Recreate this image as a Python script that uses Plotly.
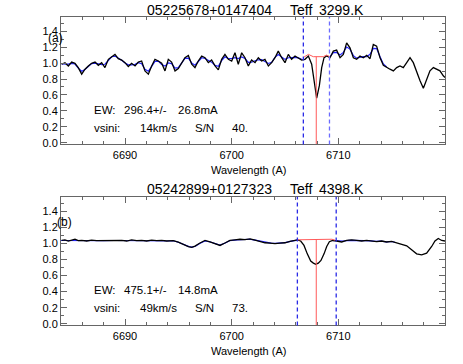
import plotly.graph_objects as go

# ---------------- data: panel (a) ----------------
wave_a = [6684.06, 6684.37, 6684.69, 6685.00, 6685.31, 6685.62, 6685.94, 6686.25, 6686.56, 6686.87,
          6687.19, 6687.50, 6687.81, 6688.12, 6688.44, 6688.75, 6689.06, 6689.37, 6689.69, 6690.00,
          6690.31, 6690.62, 6690.94, 6691.25, 6691.56, 6691.87, 6692.19, 6692.50, 6692.81, 6693.12,
          6693.44, 6693.75, 6694.06, 6694.37, 6694.69, 6695.00, 6695.31, 6695.62, 6695.94, 6696.25,
          6696.56, 6696.87, 6697.19, 6697.50, 6697.81, 6698.12, 6698.44, 6698.75, 6699.06, 6699.37,
          6699.69, 6700.00, 6700.31, 6700.62, 6700.94, 6701.25, 6701.56, 6701.87, 6702.19, 6702.50,
          6702.81, 6703.12, 6703.44, 6703.75, 6704.06, 6704.37, 6704.69, 6705.00, 6705.31, 6705.62,
          6705.94, 6706.25, 6706.56, 6706.87, 6707.19, 6707.50, 6707.72, 6707.97, 6708.22, 6708.44,
          6708.66, 6708.91, 6709.22, 6709.53, 6709.84, 6710.16, 6710.47, 6710.78, 6711.09, 6711.41,
          6711.72, 6712.03, 6712.34, 6712.66, 6712.97, 6713.28, 6713.59, 6713.91, 6714.22, 6714.53,
          6714.84, 6715.16, 6715.47, 6715.78, 6716.09, 6716.41, 6716.72, 6717.03, 6717.34, 6717.66,
          6717.97, 6718.28, 6718.59, 6718.91, 6719.22, 6719.53, 6719.84, 6720.00]
flux_a = [0.985, 1.005, 0.964, 1.013, 0.997, 0.943, 0.861, 0.923, 0.964, 0.997,
          1.013, 0.972, 1.005, 0.943, 1.047, 1.080, 1.109, 1.055, 1.038, 1.005,
          0.956, 0.997, 0.964, 1.013, 1.026, 0.902, 0.861, 0.964, 1.047, 1.026,
          0.997, 0.902, 1.047, 1.013, 0.902, 0.931, 1.005, 1.067, 1.096, 0.985,
          0.943, 1.026, 1.088, 1.067, 1.005, 1.038, 0.964, 0.915, 1.047, 1.109,
          1.047, 1.026, 1.129, 0.985, 1.129, 1.067, 0.964, 1.038, 1.005, 1.067,
          1.026, 1.047, 0.964, 1.005, 1.067, 1.150, 1.067, 1.005, 1.109, 1.047,
          1.088, 1.067, 1.038, 1.047, 1.088, 0.985, 0.799, 0.559, 0.716, 0.943,
          1.067, 1.088, 1.067, 1.150, 1.162, 1.067, 1.109, 1.253, 1.191, 1.067,
          1.047, 1.088, 1.067, 1.096, 1.055, 1.233, 1.212, 1.067, 0.972, 0.943,
          0.923, 0.902, 0.943, 0.964, 0.943, 1.005, 1.067, 1.005, 0.881, 0.778,
          0.683, 0.799, 0.902, 0.943, 0.923, 0.902, 0.840, 0.819]

model_wave_a = [6684.06, 6684.37, 6684.69, 6685.00, 6685.31, 6685.62, 6685.94, 6686.25, 6686.56, 6686.87,
                6687.19, 6687.50, 6687.81, 6688.12, 6688.44, 6688.75, 6689.06, 6689.37, 6689.69, 6690.00,
                6690.31, 6690.62, 6690.94, 6691.25, 6691.56, 6691.87, 6692.19, 6692.50, 6692.81, 6693.12,
                6693.44, 6693.75, 6694.06, 6694.37, 6694.69, 6695.00, 6695.31, 6695.62, 6695.94, 6696.25,
                6696.56, 6696.87, 6697.19, 6697.50, 6697.81, 6698.12, 6698.44, 6698.75, 6699.06, 6699.37,
                6699.69, 6700.00, 6700.31, 6700.62, 6700.94, 6701.25, 6701.56, 6701.87, 6702.19, 6702.50,
                6702.81, 6703.12, 6703.44, 6703.75, 6704.06, 6704.37, 6704.69, 6705.00, 6705.31, 6705.62,
                6705.94, 6706.25, 6706.56, None,
                6709.22, 6709.53, 6709.84, 6710.16, 6710.47, 6710.78, 6711.09, 6711.41, 6711.72, 6712.03,
                6712.34, 6712.66, 6712.97, 6713.28, 6713.59, 6713.91, 6714.22, 6714.53]
model_flux_a = [0.990, 0.990, 0.987, 0.997, 0.988, 0.936, 0.897, 0.918, 0.962, 0.993,
                0.999, 0.991, 0.981, 0.985, 1.029, 1.079, 1.088, 1.064, 1.034, 1.001,
                0.978, 0.978, 0.984, 1.004, 0.992, 0.923, 0.897, 0.959, 1.021, 1.024,
                0.981, 0.962, 1.002, 0.994, 0.937, 0.942, 1.002, 1.059, 1.061, 1.002,
                0.974, 1.021, 1.067, 1.057, 1.029, 1.011, 0.970, 0.960, 1.030, 1.078,
                1.057, 1.057, 1.067, 1.057, 1.077, 1.057, 1.008, 1.011, 1.029, 1.041,
                1.042, 1.021, 0.995, 1.010, 1.072, 1.108, 1.072, 1.046, 1.067, 1.073,
                1.072, 1.065, 1.047, None,
                1.080, 1.132, 1.135, 1.101, 1.134, 1.201, 1.175, 1.093, 1.062, 1.073,
                1.080, 1.079, 1.110, 1.183, 1.181, 1.080, 0.989, 0.950]

cont_wave_a = [6706.78, 6707.19, 6707.65, 6708.10, 6708.59, 6708.90, 6709.16]
cont_flux_a = [1.075, 1.109, 1.080, 1.080, 1.080, 1.100, 1.084]

# ---------------- data: panel (b) ----------------
wave_b = [6684.06, 6684.37, 6684.69, 6685.00, 6685.31, 6685.62, 6685.94, 6686.41, 6686.87, 6687.34,
          6687.81, 6688.28, 6688.75, 6689.22, 6689.69, 6690.16, 6690.62, 6691.09, 6691.56, 6692.03,
          6692.50, 6692.97, 6693.44, 6693.91, 6694.53, 6695.00, 6695.47, 6695.94, 6696.25, 6696.56,
          6697.03, 6697.50, 6697.97, 6698.44, 6698.91, 6699.37, 6699.84, 6700.31, 6700.78, 6701.25,
          6701.72, 6702.19, 6702.66, 6703.12, 6703.59, 6704.06, 6704.53, 6705.00, 6705.47, 6705.78,
          6706.16, 6706.47, 6706.78, 6707.09, 6707.41, 6707.66, 6707.88, 6708.12, 6708.37, 6708.66,
          6708.91, 6709.16, 6709.47, 6709.84, 6710.31, 6710.78, 6711.25, 6711.72, 6712.19, 6712.66,
          6713.12, 6713.59, 6714.06, 6714.53, 6715.00, 6715.47, 6715.94, 6716.41, 6716.87, 6717.34,
          6717.81, 6718.28, 6718.75, 6719.06, 6719.37, 6719.69, 6720.00]
flux_b = [1.037, 1.045, 1.030, 1.042, 1.052, 1.035, 1.037, 1.030, 1.040, 1.035,
          1.037, 1.030, 1.040, 1.034, 1.037, 1.030, 1.044, 1.034, 1.038, 1.030,
          1.040, 1.034, 1.037, 1.030, 1.034, 1.015, 0.983, 0.959, 0.950, 0.966,
          1.005, 1.037, 1.018, 0.997, 0.975, 1.005, 1.037, 1.045, 1.052, 1.048,
          1.057, 1.040, 1.026, 1.008, 1.005, 0.997, 1.005, 1.008, 1.026, 1.037,
          1.045, 1.030, 0.975, 0.870, 0.780, 0.755, 0.740, 0.755, 0.788, 0.870,
          0.962, 1.022, 1.037, 1.030, 1.018, 1.037, 1.045, 1.037, 1.030, 1.037,
          1.030, 1.022, 1.030, 1.018, 1.026, 1.005, 0.988, 0.971, 0.921, 0.870,
          0.858, 0.879, 0.962, 1.030, 1.062, 1.037, 1.030]

model_wave_b = [6684.0, 6685.0, 6686.0, 6687.0, 6688.0, 6689.0, 6690.0, 6691.0, 6692.0, 6693.0,
                6694.0, 6694.6, 6695.0, 6695.5, 6696.0, 6696.3, 6696.6, 6697.0, 6697.5, 6698.0,
                6698.5, 6698.9, 6699.4, 6699.8, 6700.5, 6701.2, 6701.7, 6702.2, 6702.7, 6703.2,
                6703.7, 6704.1, 6704.6, 6705.0, 6705.5, 6705.8, 6706.16, None,
                6709.5, 6710.0, 6710.5, 6711.0, 6711.5, 6712.0, 6712.5, 6713.0, 6713.5, 6714.0,
                6714.5, 6715.0, 6715.3]
model_flux_b = [1.036, 1.038, 1.037, 1.036, 1.035, 1.036, 1.035, 1.036, 1.035, 1.035,
                1.033, 1.030, 1.015, 0.985, 0.960, 0.955, 0.965, 1.000, 1.030, 1.018,
                0.995, 0.980, 1.005, 1.033, 1.045, 1.050, 1.052, 1.040, 1.025, 1.010,
                1.003, 1.000, 1.004, 1.010, 1.025, 1.035, 1.040, None,
                1.035, 1.028, 1.030, 1.038, 1.040, 1.034, 1.035, 1.032, 1.025, 1.028,
                1.020, 1.024, 1.015]

cont_wave_b = [6706.16, 6707.50, 6708.90, 6709.40, 6709.70]
cont_flux_b = [1.045, 1.046, 1.050, 1.052, 1.040]

# line markers (wavelengths)
window_a = [6706.72, 6709.17]
window_b = [6706.16, 6709.80]
li_center_a = 6707.93
li_center_b = 6707.93
li_top_a = 1.080
li_top_b = 1.046

x_tickvals = [6690, 6700, 6710]
x_ticktext = ["6690", "6700", "6710"]

titles = [["05225678+0147404", "Teff", "3299.K"], ["05242899+0127323", "Teff", "4398.K"]]
ew_text = [["EW:", "296.4+/-", "26.8mA"], ["EW:", "475.1+/-", "14.8mA"]]
vs_text = [["vsini:", "14km/s", "S/N", "40."], ["vsini:", "49km/s", "S/N", "73."]]
panel_tags = ["(a)", "(b)"]

XRANGE = [6684, 6720]
YRANGE = [-0.02, 1.58]
FONT = "Liberation Sans, Arial, sans-serif"
AXC = "#666666"
W, H = 463, 364

fig = go.Figure()

panels = [
    dict(w=wave_a, f=flux_a, mw=model_wave_a, mf=model_flux_a, cw=cont_wave_a, cf=cont_flux_a,
         win=window_a, li=li_center_a, top=li_top_a, xa="x", ya="y",
         dom=[1 - 146 / H, 1 - 17 / H], ytitle=10, yew=111, yvs=129, ytag=38, xtag=55, wl=171.7,
         wincol=["#2a2ae6", "#6b6bff"]),
    dict(w=wave_b, f=flux_b, mw=model_wave_b, mf=model_flux_b, cw=cont_wave_b, cf=cont_flux_b,
         win=window_b, li=li_center_b, top=li_top_b, xa="x2", ya="y2",
         dom=[1 - 329 / H, 1 - 199 / H], ytitle=191.3, yew=293, yvs=311, ytag=224, xtag=64.5, wl=355,
         wincol=["#2a2ae6", "#2a2ae6"]),
]

annotations = []
shapes = []
for i, p in enumerate(panels):
    fig.add_trace(go.Scatter(x=p["mw"], y=p["mf"], mode="lines", line=dict(color="#2323ff", width=1.2),
                             xaxis=p["xa"], yaxis=p["ya"], showlegend=False, connectgaps=False))
    fig.add_trace(go.Scatter(x=p["w"], y=p["f"], mode="lines", line=dict(color="black", width=1.3),
                             xaxis=p["xa"], yaxis=p["ya"], showlegend=False))
    fig.add_trace(go.Scatter(x=p["cw"], y=p["cf"], mode="lines", line=dict(color="#ff5a5a", width=1),
                             xaxis=p["xa"], yaxis=p["ya"], showlegend=False))
    fig.add_trace(go.Scatter(x=[p["li"], p["li"]], y=[YRANGE[0], p["top"]], mode="lines",
                             line=dict(color="#ff5a5a", width=1),
                             xaxis=p["xa"], yaxis=p["ya"], showlegend=False))
    for k, wv in enumerate(p["win"]):
        shapes.append(dict(type="line", xref=p["xa"], yref=p["ya"] + " domain", x0=wv, x1=wv, y0=0, y1=1,
                           line=dict(color=p["wincol"][k], width=1.3, dash="4px,3px")))
    # title pieces
    for txt, xp in zip(titles[i], [145, 287.7, 316.7]):
        annotations.append(dict(text=txt, x=xp / W, y=1 - p["ytitle"] / H, xref="paper", yref="paper",
                                xanchor="left", yanchor="middle", showarrow=False,
                                font=dict(family=FONT, size=14, color="black")))
    for txt, xp in zip(ew_text[i], [92.3, 121.7, 176]):
        annotations.append(dict(text=txt, x=xp / W, y=1 - p["yew"] / H, xref="paper", yref="paper",
                                xanchor="left", yanchor="middle", showarrow=False,
                                font=dict(family=FONT, size=11.5, color="black")))
    for txt, xp in zip(vs_text[i], [92.3, 138, 192.7, 230]):
        annotations.append(dict(text=txt, x=xp / W, y=1 - p["yvs"] / H, xref="paper", yref="paper",
                                xanchor="left", yanchor="middle", showarrow=False,
                                font=dict(family=FONT, size=11.5, color="black")))
    annotations.append(dict(text=panel_tags[i], x=p["xtag"] / W, y=1 - p["ytag"] / H, xref="paper",
                            yref="paper", xanchor="center", yanchor="middle", showarrow=False,
                            font=dict(family=FONT, size=12, color="black")))
    annotations.append(dict(text="Wavelength (A)", x=249 / W, y=1 - p["wl"] / H, xref="paper",
                            yref="paper", xanchor="center", yanchor="middle", showarrow=False,
                            font=dict(family=FONT, size=11, color="black")))

common_x = dict(range=XRANGE, domain=[61 / W, 445 / W], showline=True, mirror="ticks", linecolor=AXC,
                linewidth=1, ticks="inside", ticklen=6, tickcolor=AXC, tickwidth=1,
                tickmode="array", tickvals=x_tickvals, ticktext=x_ticktext,
                minor=dict(dtick=2, tick0=6690, ticklen=3, ticks="inside", tickcolor=AXC),
                showgrid=False, zeroline=False, tickfont=dict(family=FONT, size=11, color="black"))
common_y = dict(range=YRANGE, showline=True, mirror="ticks", linecolor=AXC, linewidth=1,
                ticks="inside", ticklen=6, tickcolor=AXC, tickwidth=1, tick0=0, dtick=0.2,
                tickformat=".1f", minor=dict(dtick=0.1, tick0=0, ticklen=3, ticks="inside", tickcolor=AXC),
                showgrid=False, zeroline=False, tickfont=dict(family=FONT, size=11, color="black"))

fig.update_layout(
    width=W, height=H, margin=dict(l=0, r=0, t=0, b=0),
    paper_bgcolor="white", plot_bgcolor="white",
    xaxis=dict(common_x, anchor="y"),
    yaxis=dict(common_y, anchor="x", domain=panels[0]["dom"]),
    xaxis2=dict(common_x, anchor="y2"),
    yaxis2=dict(common_y, anchor="x2", domain=panels[1]["dom"]),
    annotations=annotations, shapes=shapes,
)

fig.write_html("out.html", config={"displayModeBar": False},
               post_script="document.body.style.margin='0';document.body.style.overflow='hidden';")
